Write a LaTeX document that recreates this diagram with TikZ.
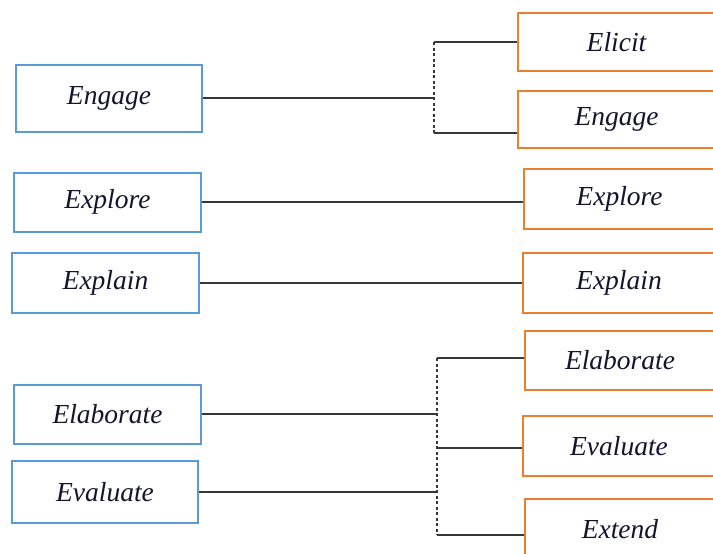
\documentclass[tikz,border=0pt]{standalone}
\usepackage{fontspec}
\setmainfont{Liberation Serif}
\definecolor{lblue}{RGB}{91,155,213}
\definecolor{rorange}{RGB}{237,125,49}
\definecolor{txt}{RGB}{20,20,45}
\definecolor{conn}{RGB}{55,55,55}
\begin{document}
\begin{tikzpicture}[x=1pt,y=-1pt,
  lbox/.style={draw=lblue,line width=2pt,fill=white,inner sep=0pt,font=\fontsize{27.5}{30}\selectfont\itshape,text=txt},
  rbox/.style={draw=rorange,line width=2pt,fill=white,inner sep=0pt,font=\fontsize{27.5}{30}\selectfont\itshape,text=txt,anchor=west},
  link/.style={draw=conn,line width=1.6pt},
  dlink/.style={draw=conn,line width=1.6pt,dash pattern=on 3pt off 2.5pt}]
\useasboundingbox (0,0) rectangle (713,554);
\clip (0,0) rectangle (713,554);
% left boxes
\node[lbox,minimum width=186pt,minimum height=67pt] (LEngage) at (109,98) {Engage};
\node[lbox,minimum width=187pt,minimum height=59pt] (LExplore) at (107.5,202) {Explore};
\node[lbox,minimum width=187pt,minimum height=60pt] (LExplain) at (105.5,283) {Explain};
\node[lbox,minimum width=187pt,minimum height=59pt] (LElaborate) at (107.5,414) {Elaborate};
\node[lbox,minimum width=186pt,minimum height=62pt] (LEvaluate) at (105,492) {Evaluate};
% right boxes
\node[rbox,minimum width=197pt,minimum height=58pt] (RElicit) at (517,42) {Elicit};
\node[rbox,minimum width=197pt,minimum height=57pt] (REngage) at (517,119.5) {Engage};
\node[rbox,minimum width=191pt,minimum height=60pt] (RExplore) at (523,199) {Explore};
\node[rbox,minimum width=192pt,minimum height=60pt] (RExplain) at (522,283) {Explain};
\node[rbox,minimum width=190pt,minimum height=59pt] (RElaborate) at (524,360.5) {Elaborate};
\node[rbox,minimum width=192pt,minimum height=60pt] (REvaluate) at (522,446) {Evaluate};
\node[rbox,minimum width=190pt,minimum height=60pt] (RExtend) at (524,529) {Extend};
% junction coordinates
\coordinate (jA) at (434,42);
\coordinate (jB) at (434,133);
\coordinate (jC) at (437,358);
\coordinate (jM) at (437,448);
\coordinate (jD) at (437,535);
% top group
\draw[dlink] (jA) -- (jB);
\draw[link] (LEngage.east) -- (LEngage.east -| jA);
\draw[link] (jA) -- (RElicit.west);
\draw[link] (jB) -- (REngage.west |- jB);
% middle
\draw[link] (LExplore.east) -- (LExplore.east -| RExplore.west);
\draw[link] (LExplain.east) -- (RExplain.west);
% bottom group
\draw[dlink] (jC) -- (jD);
\draw[link] (LElaborate.east) -- (LElaborate.east -| jC);
\draw[link] (LEvaluate.east) -- (LEvaluate.east -| jC);
\draw[link] (jC) -- (RElaborate.west |- jC);
\draw[link] (jM) -- (REvaluate.west |- jM);
\draw[link] (jD) -- (RExtend.west |- jD);
\end{tikzpicture}
\end{document}
